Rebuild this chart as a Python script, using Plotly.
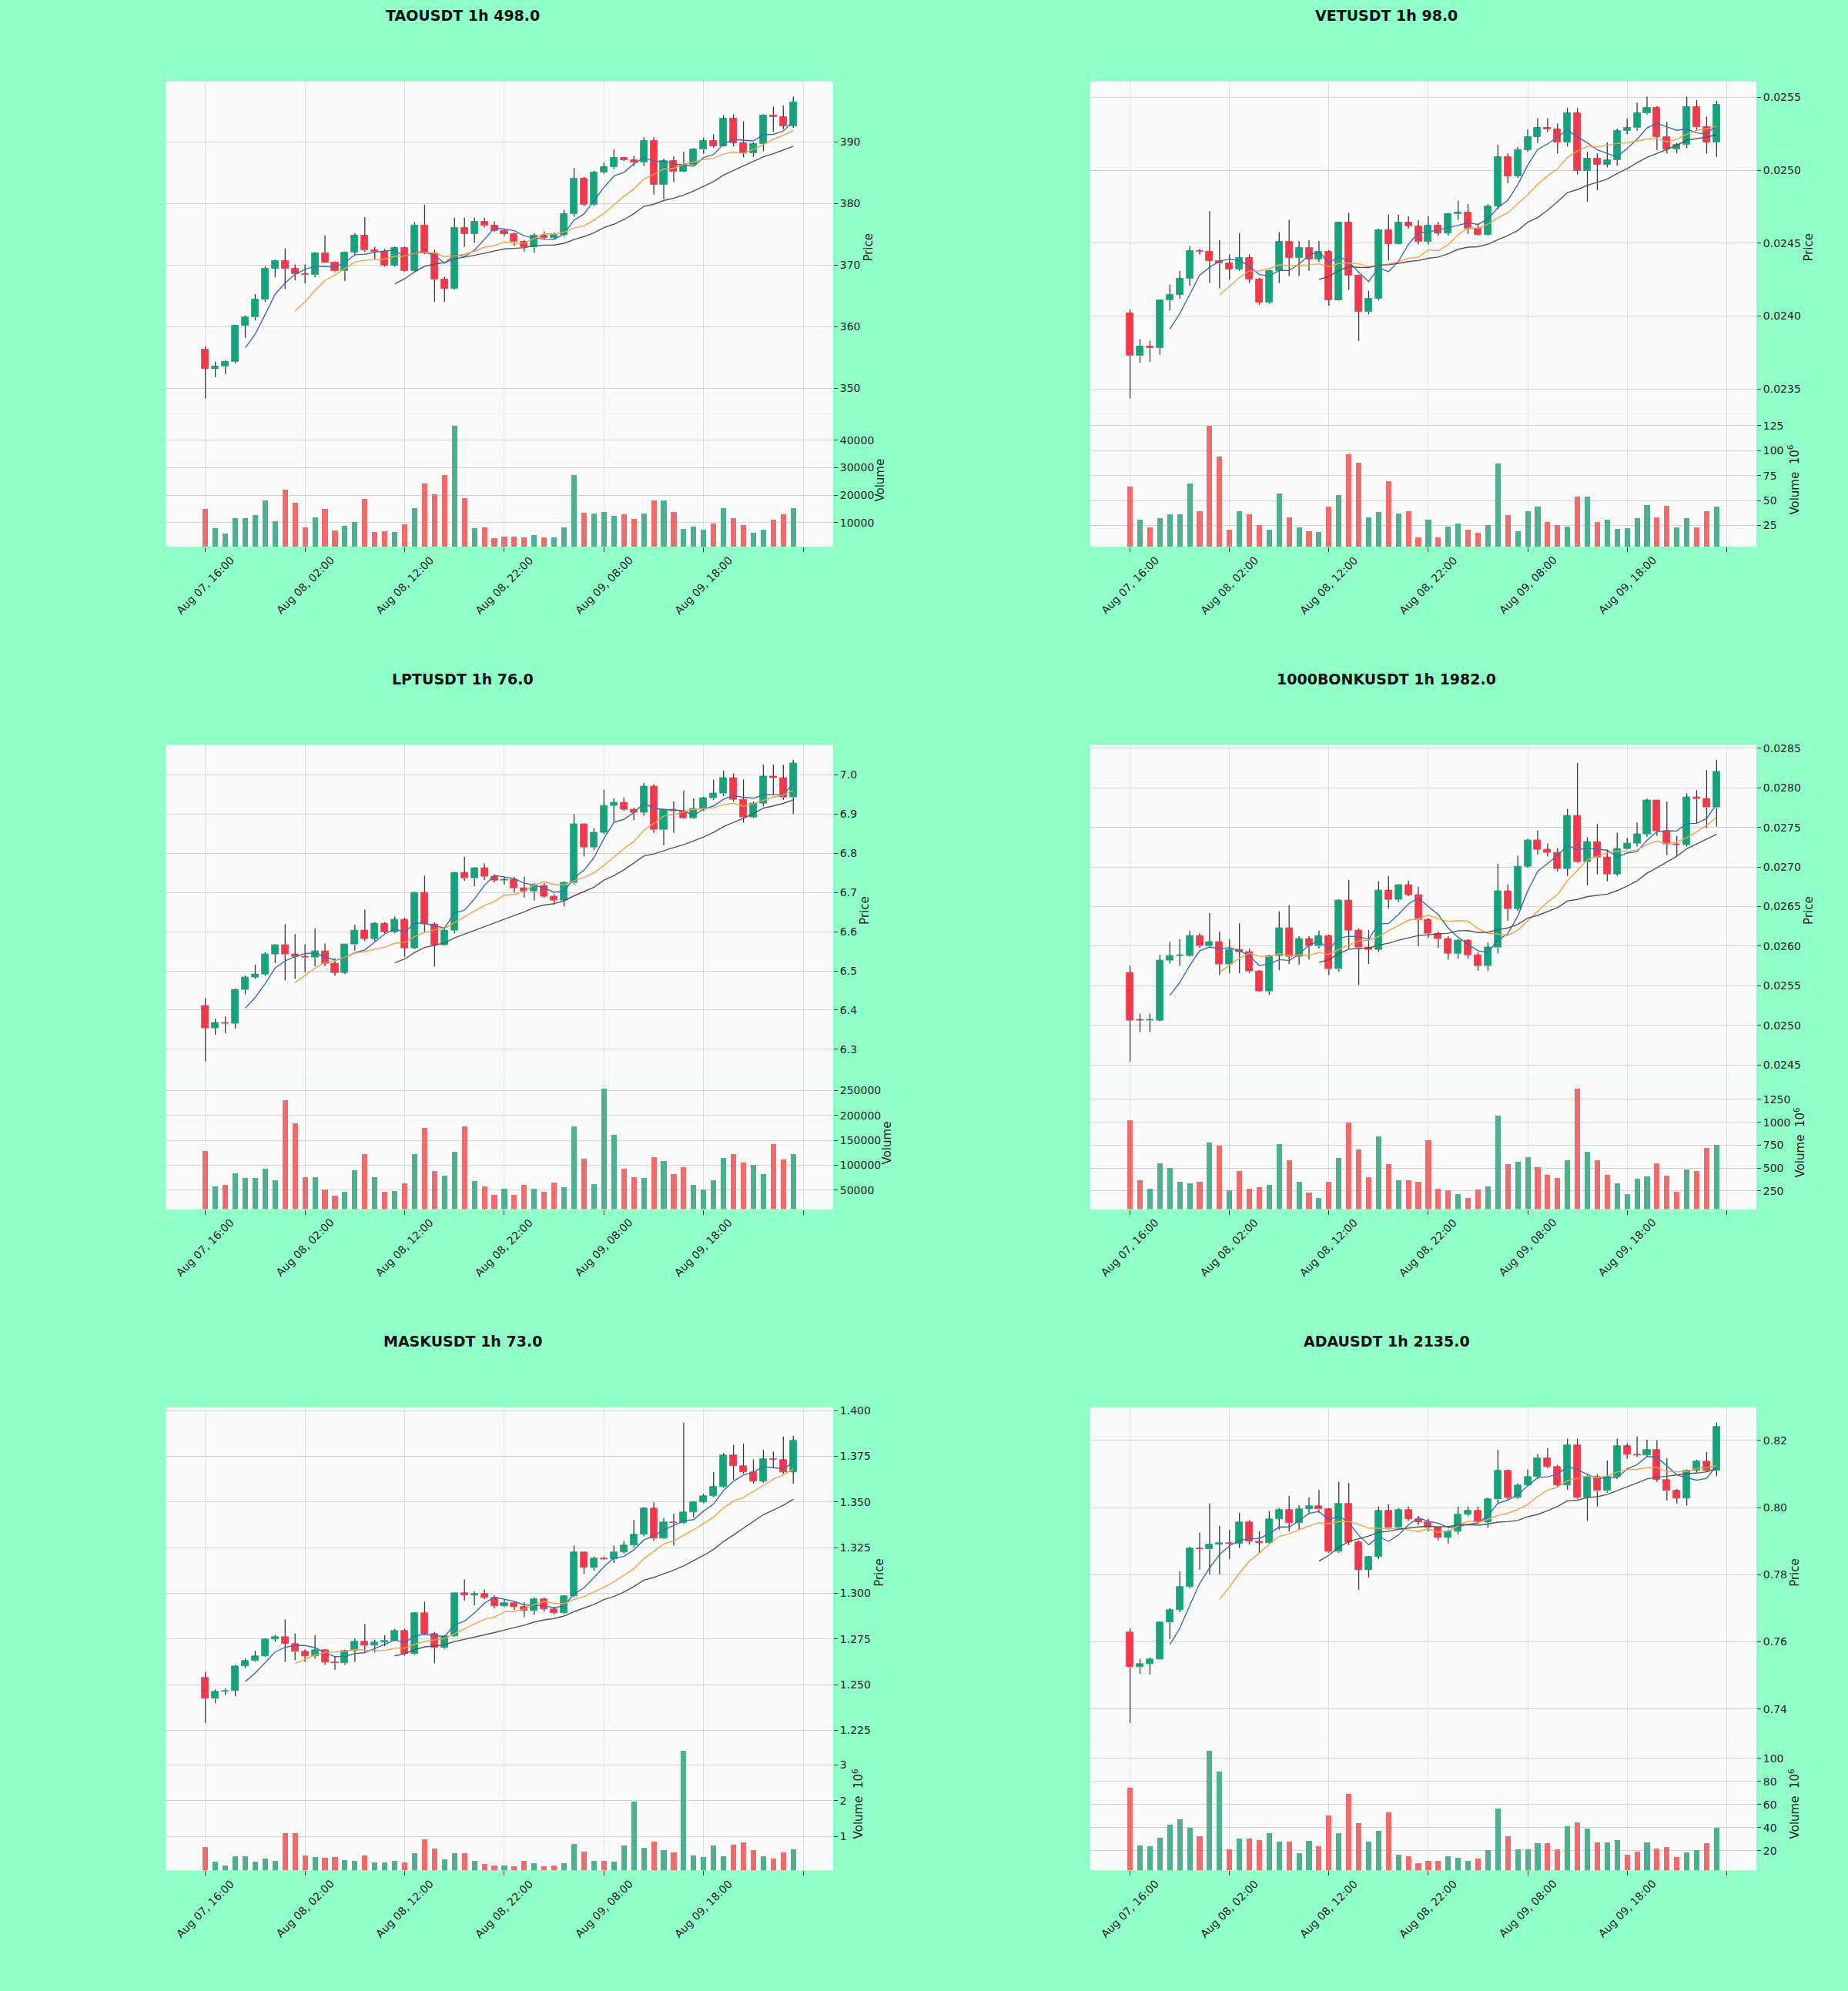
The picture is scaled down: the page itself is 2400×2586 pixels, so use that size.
import pandas as pd
import plotly.graph_objects as go

# hourly candles, Aug 07 16:00 -> Aug 10 03:00
TIMES = pd.date_range("2024-08-07 16:00", periods=60, freq="h")
TICK_LABELS = ["Aug 07, 16:00", "Aug 08, 02:00", "Aug 08, 12:00", "Aug 08, 22:00",
               "Aug 09, 08:00", "Aug 09, 18:00", ""]
MA_WINDOWS = [5, 10, 20]

# ---------------- TAOUSDT ----------------
TAO_OPEN = [356.3, 353.2, 353.5, 354.3, 360.2, 361.5, 364.4, 369.5, 370.7, 369.4,
            368.5, 368.4, 372.0, 370.5, 369.0, 372.1, 374.8, 372.4, 372.2, 370.0,
            372.8, 369.1, 376.5, 372.0, 367.7, 366.2, 376.1, 375.1, 377.1, 376.4,
            375.6, 375.1, 373.8, 372.9, 374.8, 374.5, 374.9, 378.3, 384.1, 379.8,
            385.1, 385.9, 387.5, 387.1, 386.7, 390.2, 383.1, 386.9, 385.2, 386.3,
            388.8, 390.2, 389.4, 393.8, 389.9, 388.2, 389.7, 394.4, 394.1, 392.6]
TAO_HIGH = [356.8, 354.3, 354.5, 360.3, 361.8, 365.3, 369.8, 370.9, 372.7, 370.1,
            370.1, 372.1, 374.8, 370.6, 372.2, 375.2, 377.8, 373.0, 372.6, 373.0,
            373.0, 377.0, 379.8, 372.5, 368.1, 377.7, 377.7, 377.7, 377.7, 377.1,
            375.9, 375.3, 374.1, 375.2, 375.5, 375.3, 379.0, 385.8, 384.3, 385.3,
            386.7, 388.8, 387.6, 387.8, 390.8, 390.8, 387.3, 387.7, 388.4, 389.0,
            390.7, 391.3, 394.4, 394.5, 393.4, 389.9, 394.5, 395.8, 396.0, 397.4]
TAO_LOW = [348.3, 351.8, 352.3, 354.0, 358.2, 361.0, 364.0, 368.0, 366.1, 367.5,
           367.0, 368.0, 370.4, 368.9, 367.4, 371.6, 372.1, 371.0, 369.8, 369.8,
           368.9, 368.9, 371.8, 364.0, 364.0, 366.0, 373.0, 373.6, 376.1, 375.4,
           374.7, 373.1, 372.2, 372.0, 374.1, 374.3, 374.6, 377.9, 379.6, 379.6,
           384.8, 385.6, 386.9, 386.1, 386.1, 381.5, 380.7, 383.5, 385.1, 386.2,
           388.1, 389.1, 389.3, 389.3, 387.5, 387.6, 388.5, 391.7, 392.1, 392.3]
TAO_CLOSE = [353.2, 353.5, 354.3, 360.2, 361.5, 364.4, 369.5, 370.7, 369.4, 368.5,
             368.4, 372.0, 370.5, 369.0, 372.1, 374.8, 372.4, 372.2, 370.0, 372.8,
             369.1, 376.5, 372.0, 367.7, 366.2, 376.1, 375.1, 377.1, 376.4, 375.6,
             375.1, 373.8, 372.9, 374.8, 374.5, 374.9, 378.3, 384.1, 379.8, 385.1,
             385.9, 387.5, 387.1, 386.7, 390.2, 383.1, 386.9, 385.2, 386.3, 388.8,
             390.2, 389.4, 393.8, 389.9, 388.2, 389.7, 394.4, 394.1, 392.6, 396.5]
TAO_VOL = [14800, 7800, 5900, 11600, 11400, 12600, 18000, 10300, 21800, 17000,
           8200, 11900, 14800, 6900, 8700, 10100, 18500, 6500, 6800, 6500,
           9300, 15200, 24100, 20200, 27200, 45100, 18900, 7800, 8200, 4200,
           4700, 4700, 4500, 5400, 4500, 4500, 8200, 27200, 13500, 13300,
           13800, 12300, 12900, 11200, 13200, 18000, 18000, 13800, 7500, 8400,
           7200, 9500, 15200, 11600, 9100, 6100, 7400, 11000, 12900, 15200]

# ---------------- VETUSDT ----------------
VET_OPEN = [0.024017, 0.023728, 0.023793, 0.023780, 0.024106, 0.024147, 0.024255, 0.024447, 0.024440, 0.024380,
            0.024360, 0.024320, 0.024400, 0.024250, 0.024090, 0.024310, 0.024510, 0.024400, 0.024470, 0.024390,
            0.024440, 0.024110, 0.024640, 0.024280, 0.024030, 0.024120, 0.024590, 0.024495, 0.024640, 0.024615,
            0.024510, 0.024620, 0.024570, 0.024700, 0.024710, 0.024600, 0.024560, 0.024755, 0.025090, 0.024960,
            0.025140, 0.025230, 0.025290, 0.025280, 0.025190, 0.025390, 0.024995, 0.025080, 0.025040, 0.025070,
            0.025270, 0.025290, 0.025390, 0.025430, 0.025230, 0.025145, 0.025175, 0.025435, 0.025295, 0.025190]
VET_HIGH = [0.024046, 0.023841, 0.023829, 0.024110, 0.024214, 0.024310, 0.024478, 0.024460, 0.024719, 0.024519,
            0.024423, 0.024567, 0.024423, 0.024262, 0.024317, 0.024575, 0.024659, 0.024514, 0.024519, 0.024514,
            0.024454, 0.024645, 0.024707, 0.024286, 0.024173, 0.024599, 0.024695, 0.024695, 0.024683, 0.024659,
            0.024683, 0.024647, 0.024707, 0.024791, 0.024767, 0.024635, 0.024767, 0.025175, 0.025115, 0.025159,
            0.025279, 0.025356, 0.025356, 0.025320, 0.025428, 0.025428, 0.025127, 0.025115, 0.025192, 0.025284,
            0.025356, 0.025464, 0.025505, 0.025440, 0.025332, 0.025187, 0.025505, 0.025481, 0.025368, 0.025476]
VET_LOW = [0.023433, 0.023678, 0.023685, 0.023733, 0.024038, 0.024118, 0.024207, 0.024420, 0.024226, 0.024190,
           0.024250, 0.024310, 0.024226, 0.024077, 0.024082, 0.024226, 0.024274, 0.024274, 0.024310, 0.024370,
           0.024070, 0.024106, 0.024178, 0.023829, 0.024010, 0.024106, 0.024382, 0.024490, 0.024599, 0.024490,
           0.024490, 0.024550, 0.024550, 0.024659, 0.024563, 0.024550, 0.024550, 0.024731, 0.024911, 0.024947,
           0.025127, 0.025187, 0.025260, 0.025115, 0.025163, 0.024971, 0.024784, 0.024863, 0.025019, 0.025031,
           0.025248, 0.025272, 0.025380, 0.025139, 0.025115, 0.025115, 0.025151, 0.025272, 0.025115, 0.025091]
VET_CLOSE = [0.023728, 0.023793, 0.023780, 0.024106, 0.024147, 0.024255, 0.024447, 0.024440, 0.024380, 0.024360,
             0.024320, 0.024400, 0.024250, 0.024090, 0.024310, 0.024510, 0.024400, 0.024470, 0.024390, 0.024440,
             0.024110, 0.024640, 0.024280, 0.024030, 0.024120, 0.024590, 0.024495, 0.024640, 0.024615, 0.024510,
             0.024620, 0.024570, 0.024700, 0.024710, 0.024600, 0.024560, 0.024755, 0.025090, 0.024960, 0.025140,
             0.025230, 0.025290, 0.025280, 0.025190, 0.025390, 0.024995, 0.025080, 0.025040, 0.025070, 0.025270,
             0.025290, 0.025390, 0.025430, 0.025230, 0.025145, 0.025175, 0.025435, 0.025295, 0.025190, 0.025450]
VET_VOL = [63.4, 30.6, 22.5, 32.4, 35.9, 35.9, 66.9, 38.7, 124.6, 93.7,
           20.8, 38.7, 35.9, 25.4, 20.4, 57.0, 33.1, 23.2, 19.0, 18.3,
           43.7, 55.3, 95.8, 88.0, 33.1, 38.4, 69.4, 37.0, 39.4, 13.0,
           30.6, 13.0, 23.6, 26.4, 20.8, 17.6, 25.4, 87.0, 35.2, 19.4,
           38.7, 43.7, 28.2, 25.4, 23.6, 53.5, 53.5, 28.2, 30.6, 21.1,
           21.8, 32.4, 45.4, 33.1, 44.7, 22.5, 32.4, 23.2, 38.7, 43.7]

# ---------------- LPTUSDT ----------------
LPT_OPEN = [6.411, 6.354, 6.368, 6.366, 6.452, 6.484, 6.492, 6.543, 6.566, 6.542,
            6.537, 6.534, 6.550, 6.519, 6.496, 6.567, 6.603, 6.582, 6.620, 6.600,
            6.631, 6.559, 6.700, 6.619, 6.566, 6.603, 6.750, 6.736, 6.762, 6.740,
            6.731, 6.732, 6.712, 6.704, 6.718, 6.690, 6.680, 6.724, 6.874, 6.816,
            6.852, 6.922, 6.930, 6.912, 6.903, 6.970, 6.860, 6.912, 6.908, 6.890,
            6.914, 6.940, 6.952, 6.992, 6.938, 6.892, 6.928, 6.996, 6.992, 6.942]
LPT_HIGH = [6.431, 6.378, 6.384, 6.455, 6.488, 6.516, 6.548, 6.568, 6.619, 6.594,
            6.568, 6.608, 6.570, 6.532, 6.568, 6.618, 6.656, 6.624, 6.624, 6.639,
            6.636, 6.702, 6.743, 6.624, 6.608, 6.752, 6.791, 6.764, 6.774, 6.746,
            6.740, 6.740, 6.740, 6.724, 6.724, 6.696, 6.728, 6.900, 6.876, 6.864,
            6.962, 6.940, 6.942, 6.916, 6.980, 6.976, 6.914, 6.932, 6.960, 6.940,
            6.944, 6.988, 7.010, 7.004, 6.988, 6.932, 7.026, 7.026, 7.026, 7.038]
LPT_LOW = [6.269, 6.337, 6.341, 6.353, 6.440, 6.480, 6.488, 6.520, 6.476, 6.480,
           6.496, 6.512, 6.512, 6.488, 6.492, 6.552, 6.576, 6.576, 6.596, 6.596,
           6.536, 6.556, 6.600, 6.511, 6.564, 6.596, 6.730, 6.716, 6.732, 6.726,
           6.720, 6.700, 6.687, 6.680, 6.686, 6.668, 6.664, 6.720, 6.792, 6.808,
           6.848, 6.880, 6.908, 6.884, 6.896, 6.852, 6.820, 6.852, 6.888, 6.888,
           6.908, 6.936, 6.946, 6.932, 6.878, 6.890, 6.920, 6.948, 6.936, 6.900]
LPT_CLOSE = [6.354, 6.368, 6.366, 6.452, 6.484, 6.492, 6.543, 6.566, 6.542, 6.537,
             6.534, 6.550, 6.519, 6.496, 6.567, 6.603, 6.582, 6.620, 6.600, 6.631,
             6.559, 6.700, 6.619, 6.566, 6.603, 6.750, 6.736, 6.762, 6.740, 6.731,
             6.732, 6.712, 6.704, 6.718, 6.690, 6.680, 6.724, 6.874, 6.816, 6.852,
             6.922, 6.930, 6.912, 6.903, 6.970, 6.860, 6.912, 6.908, 6.890, 6.914,
             6.940, 6.952, 6.992, 6.938, 6.892, 6.928, 6.996, 6.992, 6.942, 7.030]
LPT_VOL = [127400, 57700, 59600, 83000, 73500, 73500, 92500, 69100, 230000, 184400,
           75400, 75400, 51300, 38700, 46300, 89400, 122300, 75400, 46300, 48200,
           62700, 122300, 174900, 88100, 78000, 126100, 178100, 67200, 56400, 40600,
           52600, 40600, 59600, 52600, 46300, 64000, 55800, 178100, 112800, 62100,
           252800, 160300, 92500, 75400, 73500, 116000, 108400, 81800, 95700, 60800,
           50000, 69000, 114700, 122300, 105200, 100100, 81100, 141300, 110300, 122300]

# ---------------- 1000BONKUSDT ----------------
BONK_OPEN = [0.025664, 0.025063, 0.025060, 0.025065, 0.025820, 0.025880, 0.025882, 0.026130, 0.026000, 0.026050,
             0.025770, 0.025960, 0.025930, 0.025680, 0.025430, 0.025880, 0.026230, 0.025870, 0.026090, 0.026000,
             0.026130, 0.025710, 0.026580, 0.026200, 0.025980, 0.025960, 0.026700, 0.026590, 0.026770, 0.026650,
             0.026330, 0.026160, 0.026090, 0.025910, 0.026070, 0.025890, 0.025750, 0.025980, 0.026690, 0.026470,
             0.027010, 0.027340, 0.027220, 0.027180, 0.026980, 0.027650, 0.027060, 0.027320, 0.027120, 0.026910,
             0.027230, 0.027300, 0.027410, 0.027840, 0.027450, 0.027290, 0.027280, 0.027880, 0.027860, 0.027750]
BONK_HIGH = [0.025754, 0.025148, 0.025148, 0.025891, 0.026055, 0.026086, 0.026195, 0.026164, 0.026418, 0.026184,
             0.026086, 0.026289, 0.025969, 0.025695, 0.025891, 0.026438, 0.026516, 0.026125, 0.026125, 0.026195,
             0.026145, 0.026590, 0.026836, 0.026223, 0.026203, 0.026820, 0.026887, 0.026781, 0.026828, 0.026750,
             0.026352, 0.026184, 0.026125, 0.026086, 0.026086, 0.025922, 0.026047, 0.027043, 0.026781, 0.027141,
             0.027355, 0.027461, 0.027297, 0.027238, 0.027734, 0.028313, 0.027375, 0.027539, 0.027219, 0.027434,
             0.027367, 0.027563, 0.027863, 0.027844, 0.027824, 0.027395, 0.027930, 0.027969, 0.028227, 0.028352]
BONK_LOW = [0.024543, 0.024914, 0.024914, 0.025050, 0.025781, 0.025754, 0.025871, 0.025977, 0.025988, 0.025637,
            0.025656, 0.025656, 0.025656, 0.025422, 0.025383, 0.025695, 0.025773, 0.025766, 0.025832, 0.025969,
            0.025637, 0.025676, 0.025969, 0.025508, 0.025773, 0.025930, 0.026477, 0.026555, 0.026633, 0.026000,
            0.026105, 0.025977, 0.025832, 0.025844, 0.025844, 0.025688, 0.025688, 0.025910, 0.026320, 0.026445,
            0.026992, 0.027160, 0.027133, 0.026945, 0.026887, 0.027050, 0.026770, 0.026906, 0.026820, 0.026887,
            0.027219, 0.027258, 0.027383, 0.027395, 0.027148, 0.027141, 0.027258, 0.027551, 0.027492, 0.027512]
BONK_CLOSE = [0.025063, 0.025060, 0.025065, 0.025820, 0.025880, 0.025882, 0.026130, 0.026000, 0.026050, 0.025770,
              0.025960, 0.025930, 0.025680, 0.025430, 0.025880, 0.026230, 0.025870, 0.026090, 0.026000, 0.026130,
              0.025710, 0.026580, 0.026200, 0.025980, 0.025960, 0.026700, 0.026590, 0.026770, 0.026650, 0.026330,
              0.026160, 0.026090, 0.025910, 0.026070, 0.025890, 0.025750, 0.025980, 0.026690, 0.026470, 0.027010,
              0.027340, 0.027220, 0.027180, 0.026980, 0.027650, 0.027060, 0.027320, 0.027120, 0.026910, 0.027230,
              0.027300, 0.027410, 0.027840, 0.027450, 0.027290, 0.027280, 0.027880, 0.027860, 0.027750, 0.028200]
BONK_VOL = [1017, 369, 270, 549, 498, 345, 334, 345, 778, 744,
            259, 464, 270, 287, 311, 761, 584, 345, 232, 174,
            345, 608, 993, 703, 396, 846, 543, 362, 362, 352,
            799, 276, 259, 215, 174, 266, 300, 1068, 543, 567,
            618, 505, 423, 389, 584, 1362, 679, 584, 420, 334,
            215, 386, 406, 549, 413, 242, 481, 464, 720, 754]

# ---------------- MASKUSDT ----------------
MASK_OPEN = [1.2536, 1.2423, 1.2462, 1.2468, 1.2603, 1.2629, 1.2656, 1.2749, 1.2763, 1.2725,
             1.2680, 1.2656, 1.2691, 1.2622, 1.2617, 1.2686, 1.2737, 1.2715, 1.2732, 1.2742,
             1.2797, 1.2668, 1.2892, 1.2780, 1.2703, 1.2766, 1.3000, 1.2990, 1.2998, 1.2978,
             1.2930, 1.2948, 1.2926, 1.2904, 1.2969, 1.2914, 1.2892, 1.2983, 1.3223, 1.3141,
             1.3192, 1.3188, 1.3227, 1.3261, 1.3321, 1.3464, 1.3299, 1.3390, 1.3386, 1.3445,
             1.3498, 1.3533, 1.3584, 1.3756, 1.3699, 1.3665, 1.3613, 1.3734, 1.3730, 1.3665]
MASK_HIGH = [1.2570, 1.2474, 1.2479, 1.2608, 1.2643, 1.2686, 1.2754, 1.2771, 1.2857, 1.2780,
             1.2694, 1.2771, 1.2694, 1.2656, 1.2691, 1.2754, 1.2832, 1.2746, 1.2771, 1.2806,
             1.2806, 1.2897, 1.2955, 1.2789, 1.2771, 1.3003, 1.3076, 1.3012, 1.3021, 1.2990,
             1.2969, 1.2955, 1.2952, 1.2978, 1.2978, 1.2926, 1.2990, 1.3261, 1.3227, 1.3201,
             1.3201, 1.3261, 1.3287, 1.3402, 1.3471, 1.3498, 1.3412, 1.3436, 1.3935, 1.3505,
             1.3545, 1.3665, 1.3768, 1.3814, 1.3820, 1.3734, 1.3785, 1.3777, 1.3859, 1.3863]
MASK_LOW = [1.2290, 1.2399, 1.2445, 1.2436, 1.2591, 1.2625, 1.2651, 1.2737, 1.2625, 1.2634,
            1.2625, 1.2643, 1.2608, 1.2582, 1.2608, 1.2625, 1.2677, 1.2677, 1.2711, 1.2740,
            1.2660, 1.2663, 1.2771, 1.2617, 1.2698, 1.2763, 1.2960, 1.2935, 1.2969, 1.2918,
            1.2925, 1.2909, 1.2869, 1.2883, 1.2900, 1.2883, 1.2887, 1.2978, 1.3107, 1.3124,
            1.3184, 1.3167, 1.3218, 1.3253, 1.3313, 1.3287, 1.3296, 1.3261, 1.3381, 1.3416,
            1.3493, 1.3527, 1.3579, 1.3622, 1.3656, 1.3601, 1.3605, 1.3687, 1.3656, 1.3601]
MASK_CLOSE = [1.2423, 1.2462, 1.2468, 1.2603, 1.2629, 1.2656, 1.2749, 1.2763, 1.2725, 1.2680,
              1.2656, 1.2691, 1.2622, 1.2617, 1.2686, 1.2737, 1.2715, 1.2732, 1.2742, 1.2797,
              1.2668, 1.2892, 1.2780, 1.2703, 1.2766, 1.3000, 1.2990, 1.2998, 1.2978, 1.2930,
              1.2948, 1.2926, 1.2904, 1.2969, 1.2914, 1.2892, 1.2983, 1.3223, 1.3141, 1.3192,
              1.3188, 1.3227, 1.3261, 1.3321, 1.3464, 1.3299, 1.3390, 1.3386, 1.3445, 1.3498,
              1.3533, 1.3584, 1.3756, 1.3699, 1.3665, 1.3613, 1.3734, 1.3730, 1.3665, 1.3837]
MASK_VOL = [0.72, 0.30, 0.21, 0.45, 0.45, 0.30, 0.39, 0.32, 1.10, 1.10,
            0.47, 0.43, 0.42, 0.43, 0.36, 0.34, 0.47, 0.28, 0.28, 0.32,
            0.28, 0.54, 0.93, 0.67, 0.37, 0.54, 0.54, 0.34, 0.25, 0.21,
            0.21, 0.19, 0.34, 0.27, 0.19, 0.21, 0.27, 0.81, 0.58, 0.34,
            0.34, 0.30, 0.76, 1.99, 0.69, 0.87, 0.62, 0.56, 3.40, 0.47,
            0.43, 0.76, 0.46, 0.78, 0.84, 0.62, 0.46, 0.39, 0.56, 0.65]

# ---------------- ADAUSDT ----------------
ADA_OPEN = [0.7629, 0.7524, 0.7535, 0.7549, 0.7657, 0.7695, 0.7764, 0.7877, 0.7875, 0.7890,
            0.7895, 0.7893, 0.7957, 0.7899, 0.7895, 0.7966, 0.7993, 0.7954, 0.7996, 0.8004,
            0.7994, 0.7868, 0.8012, 0.7897, 0.7815, 0.7853, 0.7991, 0.7939, 0.7993, 0.7966,
            0.7957, 0.7939, 0.7911, 0.7929, 0.7980, 0.7991, 0.7957, 0.8024, 0.8110, 0.8030,
            0.8067, 0.8092, 0.8147, 0.8122, 0.8067, 0.8186, 0.8030, 0.8092, 0.8049, 0.8092,
            0.8182, 0.8159, 0.8156, 0.8171, 0.8083, 0.8049, 0.8028, 0.8110, 0.8138, 0.8110]
ADA_HIGH = [0.7640, 0.7549, 0.7553, 0.7660, 0.7700, 0.7810, 0.7883, 0.7925, 0.8012, 0.7945,
            0.7934, 0.7984, 0.7963, 0.7929, 0.7989, 0.7998, 0.8035, 0.8007, 0.8030, 0.8053,
            0.7998, 0.8076, 0.8073, 0.7902, 0.7856, 0.8003, 0.8009, 0.7998, 0.8003, 0.7975,
            0.7966, 0.7943, 0.7934, 0.8003, 0.8003, 0.8003, 0.8030, 0.8172, 0.8113, 0.8072,
            0.8113, 0.8159, 0.8177, 0.8127, 0.8205, 0.8205, 0.8099, 0.8099, 0.8140, 0.8205,
            0.8191, 0.8211, 0.8202, 0.8200, 0.8147, 0.8055, 0.8113, 0.8143, 0.8165, 0.8253]
ADA_LOW = [0.7358, 0.7505, 0.7503, 0.7547, 0.7608, 0.7688, 0.7760, 0.7815, 0.7801, 0.7801,
           0.7847, 0.7879, 0.7890, 0.7865, 0.7893, 0.7934, 0.7929, 0.7934, 0.7980, 0.7984,
           0.7865, 0.7865, 0.7888, 0.7755, 0.7792, 0.7847, 0.7934, 0.7934, 0.7961, 0.7948,
           0.7929, 0.7902, 0.7893, 0.7920, 0.7975, 0.7952, 0.7939, 0.8012, 0.8021, 0.8026,
           0.8062, 0.8085, 0.8117, 0.8062, 0.8053, 0.8026, 0.7960, 0.8003, 0.8044, 0.8085,
           0.8145, 0.8150, 0.8150, 0.8076, 0.8021, 0.8012, 0.8006, 0.8104, 0.8106, 0.8094]
ADA_CLOSE = [0.7524, 0.7535, 0.7549, 0.7657, 0.7695, 0.7764, 0.7877, 0.7875, 0.7890, 0.7895,
             0.7893, 0.7957, 0.7899, 0.7895, 0.7966, 0.7993, 0.7954, 0.7996, 0.8004, 0.7994,
             0.7868, 0.8012, 0.7897, 0.7815, 0.7853, 0.7991, 0.7939, 0.7993, 0.7966, 0.7957,
             0.7939, 0.7911, 0.7929, 0.7980, 0.7991, 0.7957, 0.8024, 0.8110, 0.8030, 0.8067,
             0.8092, 0.8147, 0.8122, 0.8067, 0.8186, 0.8030, 0.8092, 0.8049, 0.8092, 0.8182,
             0.8159, 0.8156, 0.8171, 0.8083, 0.8049, 0.8028, 0.8110, 0.8138, 0.8110, 0.8241]
ADA_VOL = [74.6, 25.1, 23.8, 31.4, 42.7, 47.6, 40.0, 32.7, 107.0, 89.2,
           21.6, 30.5, 31.1, 29.7, 35.4, 28.4, 28.4, 18.4, 28.6, 23.8,
           50.8, 35.4, 69.7, 44.1, 28.4, 37.3, 53.5, 16.5, 15.7, 9.7,
           11.6, 11.6, 15.7, 14.3, 11.6, 13.5, 20.5, 56.8, 32.7, 21.6,
           21.6, 26.5, 27.0, 21.6, 41.4, 44.6, 39.5, 27.8, 27.8, 29.7,
           17.0, 19.7, 27.3, 22.4, 23.2, 15.1, 18.9, 21.0, 27.0, 40.0]

PANELS = [
    ("TAOUSDT 1h 498.0", TAO_OPEN, TAO_HIGH, TAO_LOW, TAO_CLOSE, TAO_VOL,
     10, ".0f", [10000, 20000, 30000, 40000], "Volume"),
    ("VETUSDT 1h 98.0", VET_OPEN, VET_HIGH, VET_LOW, VET_CLOSE, VET_VOL,
     0.0005, ".4f", [25, 50, 75, 100, 125], "Volume  10<sup>6</sup>"),
    ("LPTUSDT 1h 76.0", LPT_OPEN, LPT_HIGH, LPT_LOW, LPT_CLOSE, LPT_VOL,
     0.1, ".1f", [50000, 100000, 150000, 200000, 250000], "Volume"),
    ("1000BONKUSDT 1h 1982.0", BONK_OPEN, BONK_HIGH, BONK_LOW, BONK_CLOSE, BONK_VOL,
     0.0005, ".4f", [250, 500, 750, 1000, 1250], "Volume  10<sup>6</sup>"),
    ("MASKUSDT 1h 73.0", MASK_OPEN, MASK_HIGH, MASK_LOW, MASK_CLOSE, MASK_VOL,
     0.025, ".3f", [1, 2, 3], "Volume  10<sup>6</sup>"),
    ("ADAUSDT 1h 2135.0", ADA_OPEN, ADA_HIGH, ADA_LOW, ADA_CLOSE, ADA_VOL,
     0.02, ".2f", [20, 40, 60, 80, 100], "Volume  10<sup>6</sup>"),
]

# page geometry in pixels
W, H = 2400, 2586
COLS = [(215, 1082), (1416, 2281)]
ROWS = [(102, 707), (965, 1569), (1827, 2429)]
PRICE_LABEL_DX = [46, 68, 41, 68, 60, 50]
VOL_LABEL_DX = [61, 48, 70, 56, 32, 49]

BG = "#90ffc8"
UP, DOWN = "#16a37b", "#f2384a"
VUP, VDOWN = "#4fb08f", "#f06b6b"
MA_COLORS = ["#3d6db0", "#f5a045", "#555555"]
FONT = "DejaVu Sans"
HOUR = 3600 * 1000

t0 = TIMES[0]
xrange_ = [t0 - pd.Timedelta(hours=4), t0 + pd.Timedelta(hours=63)]
tick_times = [t0 + pd.Timedelta(hours=10 * i) for i in range(len(TICK_LABELS))]


def px_x(v):
    return v / W


def px_y(v):
    return 1 - v / H


fig = go.Figure()
layout = {}
annotations = []

for k, (title, o, h, l, c, v, pdt, pfmt, vticks, vlabel) in enumerate(PANELS):
    r, col = divmod(k, 2)
    left, right = COLS[col]
    top, bot = ROWS[r]
    split = top + (bot - top) * 5 / 7
    pa, va = 2 * k + 1, 2 * k + 2
    pxr, pyr = ("x", "y") if pa == 1 else (f"x{pa}", f"y{pa}")
    vxr, vyr = f"x{va}", f"y{va}"
    up = [ci >= oi for oi, ci in zip(o, c)]

    lo, hi = min(l), max(h)
    pad = 0.05 * (hi - lo)
    min_body = (hi - lo) * 0.0015

    # volume
    fig.add_trace(go.Bar(x=TIMES, y=v, width=0.55 * HOUR,
                         marker=dict(color=[VUP if u else VDOWN for u in up], line_width=0),
                         xaxis=vxr, yaxis=vyr, showlegend=False))

    # wicks (drawn outside the body)
    wx, wy = [], []
    for t, oi, hi_, li, ci in zip(TIMES, o, h, l, c):
        b0, b1 = min(oi, ci), max(oi, ci)
        wx += [t, t, None, t, t, None]
        wy += [li, b0, None, b1, hi_, None]
    fig.add_trace(go.Scatter(x=wx, y=wy, mode="lines", line=dict(color="#3a3a3a", width=1.3),
                             xaxis=pxr, yaxis=pyr, showlegend=False, hoverinfo="skip"))

    # candle bodies
    cols_ = [UP if u else DOWN for u in up]
    fig.add_trace(go.Bar(x=TIMES, y=[max(abs(ci - oi), min_body) for oi, ci in zip(o, c)],
                         base=[min(oi, ci) for oi, ci in zip(o, c)], width=0.7 * HOUR,
                         marker=dict(color=cols_, line=dict(color=cols_, width=0.8)),
                         xaxis=pxr, yaxis=pyr, showlegend=False))

    # moving averages
    closes = pd.Series(c)
    for win, mc in zip(MA_WINDOWS, MA_COLORS):
        fig.add_trace(go.Scatter(x=TIMES, y=closes.rolling(win).mean(), mode="lines",
                                 line=dict(color=mc, width=1.4),
                                 xaxis=pxr, yaxis=pyr, showlegend=False))

    xdom = [px_x(left), px_x(right)]
    common_x = dict(domain=xdom, range=xrange_, type="date", tickvals=tick_times,
                    showticklabels=False, showgrid=True, gridcolor="#e2e2e2", gridwidth=1,
                    zeroline=False, showline=False)
    layout["xaxis" if pa == 1 else f"xaxis{pa}"] = dict(common_x, anchor=pyr, ticks="")
    layout[f"xaxis{va}"] = dict(common_x, anchor=vyr, ticks="outside", ticklen=6,
                                tickcolor="#333333", tickwidth=1.2)

    common_y = dict(side="right", ticks="outside", ticklen=5, tickcolor="#333333",
                    tickwidth=1.2, showgrid=True, gridcolor="#d4d4d4", gridwidth=1.3,
                    zeroline=False, showline=False,
                    tickfont=dict(family=FONT, size=14, color="#222222"))
    layout["yaxis" if pa == 1 else f"yaxis{pa}"] = dict(
        common_y, anchor=pxr, domain=[px_y(split), px_y(top)],
        range=[lo - pad, hi + pad], dtick=pdt, tickformat=pfmt, tick0=0)
    layout[f"yaxis{va}"] = dict(
        common_y, anchor=vxr, domain=[px_y(bot), px_y(split)],
        range=[0.3 * min(v), 1.1 * max(v)], tickvals=vticks, tickformat="d")

    # title and axis labels
    annotations.append(dict(text=f"<b>{title}</b>", x=px_x((left + right) / 2 - 48),
                            y=px_y(top - 86), xref="paper", yref="paper", showarrow=False,
                            xanchor="center", yanchor="middle",
                            font=dict(family=FONT, size=19, color="#111111")))
    annotations.append(dict(text="Price", x=px_x(right + PRICE_LABEL_DX[k]),
                            y=px_y((top + split) / 2), xref="paper", yref="paper",
                            showarrow=False, textangle=-90, xanchor="center", yanchor="middle",
                            font=dict(family=FONT, size=15, color="#222222")))
    annotations.append(dict(text=vlabel, x=px_x(right + VOL_LABEL_DX[k]),
                            y=px_y((split + bot) / 2), xref="paper", yref="paper",
                            showarrow=False, textangle=-90, xanchor="center", yanchor="middle",
                            font=dict(family=FONT, size=15, color="#222222")))
    for tt, lab in zip(tick_times, TICK_LABELS):
        if not lab:
            continue
        annotations.append(dict(text=lab, x=tt, xref=vxr, y=px_y(bot + 50), yref="paper",
                                showarrow=False, textangle=-45, xanchor="center",
                                yanchor="middle",
                                font=dict(family=FONT, size=14, color="#222222")))

fig.update_layout(
    width=W, height=H,
    margin=dict(l=0, r=0, t=0, b=0),
    paper_bgcolor=BG, plot_bgcolor="#fafafa",
    bargap=0, showlegend=False,
    annotations=annotations,
    **layout,
)
fig.write_html("out.html", config={"displayModeBar": False},
               post_script="document.body.style.margin='0';document.body.style.background='%s';" % BG)
